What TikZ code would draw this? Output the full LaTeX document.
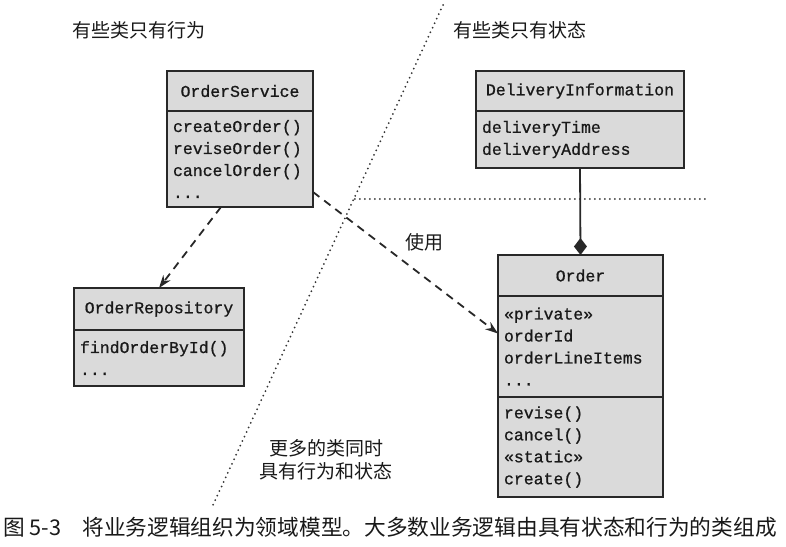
\documentclass[tikz,border=0pt]{standalone}
\usepackage{fontspec}
\usepackage{tikz}
\usetikzlibrary{arrows.meta,positioning,calc}
\newfontfamily\umlfont{Liberation Mono}[FakeBold=0.8]
\newfontfamily\cjk{Noto Sans CJK SC}
\definecolor{boxgray}{RGB}{218,218,218}
\definecolor{inkgray}{RGB}{40,40,40}

\begin{document}
\begin{tikzpicture}[x=1pt,y=-1pt,
    classhead/.style={draw=inkgray,fill=boxgray,line width=1.7pt,outer sep=0pt,inner sep=0pt,
      font=\umlfont\fontsize{16.5}{22}\selectfont,text=black!90},
    classbody/.style={classhead,align=left,inner xsep=6pt,inner ysep=0pt},
    zoneline/.style={draw=black!80,line width=2pt,line cap=round,dash pattern=on 0pt off 5pt},
    uses/.style={draw=inkgray,line width=1.8pt,dash pattern=on 8pt off 6pt,-{Stealth[length=13pt,width=9pt]}},
    zonelabel/.style={font=\cjk\fontsize{19}{23}\selectfont,text=black!90,align=center,inner sep=0pt}]
  \useasboundingbox (0,0) rectangle (786,546);

  \coordinate (divtop) at (443,5);
  \coordinate (divbot) at (213,505);
  \coordinate (hcross) at (354.8,199);
  \coordinate (hend) at (708,199);
  \draw[zoneline] (divtop) -- (divbot);
  \draw[zoneline] (hcross) -- (hend);

  \node[zonelabel] (behaviour) at (139,30) {有些类只有行为};
  \node[zonelabel] (state) at (520,30) {有些类只有状态};
  \node[zonelabel] (both) at (326,460) {更多的类同时\\具有行为和状态};

  \node[classhead,minimum width=146pt,minimum height=40pt] (svchead) at (240,91) {OrderService};
  \node[classbody,text width=134pt,minimum height=96pt,below=0pt of svchead] (svcbody)
    {createOrder()\\reviseOrder()\\cancelOrder()\\...};

  \node[classhead,minimum width=208pt,minimum height=40pt] (delihead) at (580,91) {DeliveryInformation};
  \node[classbody,text width=196pt,minimum height=57pt,below=0pt of delihead] (delibody)
    {deliveryTime\\deliveryAddress};

  \node[classhead,minimum width=170pt,minimum height=42pt] (repohead) at (159,309) {OrderRepository};
  \node[classbody,text width=158pt,minimum height=56pt,below=0pt of repohead] (repobody)
    {findOrderById()\\...};

  \node[classhead,minimum width=165pt,minimum height=41pt] (ordhead) at (580.5,275.5) {Order};
  \node[classbody,text width=153pt,minimum height=101pt,below=0pt of ordhead] (ordattr)
    {«private»\\orderId\\orderLineItems\\...};
  \node[classbody,text width=153pt,minimum height=100pt,below=0pt of ordattr] (ordops)
    {revise()\\cancel()\\«static»\\create()};

  \draw[uses] ($(svcbody.south)+(-19,0)$) -- (repohead.north);
  \draw[uses] ($(svcbody.south east)+(0,-15)$) -- ($(ordattr.west)+(0,-13)$);
  \node[zonelabel] (useslabel) at (424,242) {使用};
  \draw[draw=inkgray,line width=1.8pt,-{Diamond[length=17pt,width=13pt]}] (delibody.south) -- (ordhead.north);

  \node[anchor=west,inner sep=0pt,font=\cjk\fontsize{21.7}{26}\selectfont,text=black!90] (caption) at (3,527)
    {图 5-3\hspace{21pt}将业务逻辑组织为领域模型。大多数业务逻辑由具有状态和行为的类组成};
\end{tikzpicture}
\end{document}
